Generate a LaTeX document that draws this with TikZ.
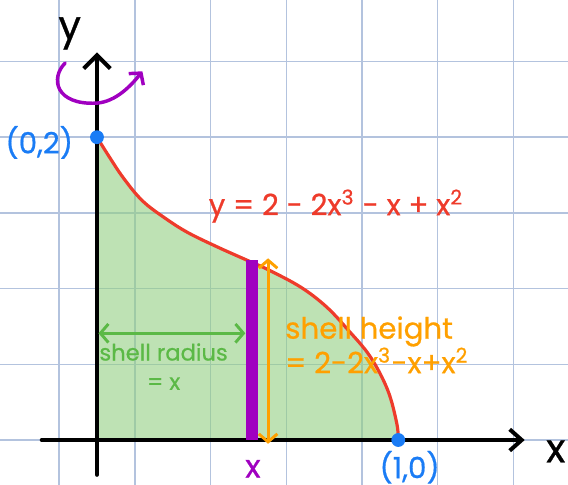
\documentclass[tikz,border=0pt]{standalone}
\usepackage{fontspec}
\setmainfont{Poppins}[UprightFeatures={FakeBold=0.7}]
\usetikzlibrary{arrows.meta, positioning, calc}
\definecolor{hgrid}{HTML}{B3C3DE}
\definecolor{hfill}{HTML}{93CF82}
\definecolor{hred}{HTML}{EE3B2B}
\definecolor{hblue}{HTML}{1A7CF5}
\definecolor{hpurple}{HTML}{A000C0}
\definecolor{horange}{HTML}{FFA000}
\definecolor{hgreen}{HTML}{5BB946}
\tikzset{
  gridline/.style={hgrid, line width=0.55pt},
  axisline/.style={line width=1.5pt, black, line cap=round},
  curveline/.style={hred, line width=1.2pt, line cap=round},
  shellfill/.style={fill=hfill, fill opacity=0.6},
  shellbar/.style={hpurple, line width=4.5pt},
  dimarr/.style={line width=1.1pt, {Straight Barb[length=3pt, width=7pt]}-{Straight Barb[length=3pt, width=7pt]}},
  dot/.style={circle, fill=hblue, minimum size=5.2pt, inner sep=0pt},
  lbl/.style={inner sep=0pt, font=\fontsize{11}{14}\selectfont},
}

\begin{document}
\begin{tikzpicture}[x=1cm, y=1cm,
    axlbl/.style={inner sep=0pt, font=\fontsize{15}{18}\selectfont}]
  \useasboundingbox (-1.281,-0.594) rectangle (6.222,5.812);
  % grid paper
  \foreach \gx in {-0.5,0.5,...,5.5}
    \draw[gridline] (\gx,-0.7) -- (\gx,5.9);
  \foreach \gy in {0,...,5}
    \draw[gridline] (-1.4,\gy) -- (6.3,\gy);
  % region under the curve
  \fill[shellfill] (0,0) -- plot[smooth, tension=0.6] coordinates {(0,4) (0.15,3.76) (0.35,3.46) (0.6,3.16) (0.9,2.93) (1.20,2.74) (1.59,2.55) (1.97,2.38) (2.26,2.25) (2.69,2.02) (3.03,1.76) (3.32,1.45) (3.61,1.10) (3.84,0.66) (3.96,0.22) (3.98,0)} -- cycle;
  \draw[curveline] plot[smooth, tension=0.6] coordinates {(0,4) (0.15,3.76) (0.35,3.46) (0.6,3.16) (0.9,2.93) (1.20,2.74) (1.59,2.55) (1.97,2.38) (2.26,2.25) (2.69,2.02) (3.03,1.76) (3.32,1.45) (3.61,1.10) (3.84,0.66) (3.96,0.22) (3.98,0)};
  % axes
  \coordinate (xS) at (-0.73,0);
  \coordinate (xE) at (5.65,0);
  \coordinate (yS) at (0,-0.46);
  \coordinate (yE) at (0,5.12);
  \draw[axisline, -{Straight Barb[length=4.5pt, width=8pt]}] (xS) -- (xE);
  \draw[axisline, -{Straight Barb[length=5pt, width=10pt]}] (yS) -- (yE);
  \node[axlbl] (ylab) at (-0.36,5.37) {y};
  \node[axlbl] (xlab) at (6.06,-0.15) {x};
  % rotation about the y-axis
  \coordinate (rotS) at (-0.42,4.98);
  \coordinate (rotB) at (0,4.45);
  \coordinate (rotE) at (0.60,4.87);
  \draw[hpurple, line width=1.3pt, line cap=round, -{Straight Barb[length=3pt, width=7pt]}]
    (rotS) .. controls (-0.62,4.78) and (-0.55,4.42) .. (rotB)
    .. controls (0.25,4.47) and (0.45,4.68) .. (rotE);
  % the shell
  \coordinate (barB) at (2.05,0);
  \coordinate (barT) at (2.05,2.38);
  \draw[shellbar] (barB) -- (barT);
  \node[lbl, text=hpurple, font=\fontsize{12}{14}\selectfont] (barlab) at (2.06,-0.38) {x};
  % shell height
  \coordinate (hT) at (2.26,2.40);
  \coordinate (hB) at (2.26,-0.05);
  \draw[dimarr, horange] (hT) -- (hB);
  \node[lbl, text=horange, anchor=north west, align=left] (hlab) at (2.48,1.64)
    {shell height\\[-1pt]= 2-2x\textsuperscript{3}-x+x\textsuperscript{2}};
  % shell radius
  \coordinate (rL) at (0.02,1.41);
  \coordinate (rR) at (1.96,1.41);
  \draw[dimarr, hgreen] (rL) -- (rR);
  \node[lbl, text=hgreen, font=\fontsize{8.5}{11}\selectfont, align=center] (rlab) at (0.88,0.97)
    {shell radius\\= x};
  % end points
  \node[dot] (p02) at (0,4) {};
  \node[dot] (p10) at (3.98,0) {};
  \node[lbl, text=hblue, left=6pt of p02, yshift=-2pt] (p02lab) {(0,2)};
  \node[lbl, text=hblue] (p10lab) at (4.13,-0.36) {(1,0)};
  % curve label
  \node[lbl, text=hred, anchor=base west] (eqn) at (1.47,2.97)
    {y = 2 - 2x\textsuperscript{3} - x + x\textsuperscript{2}};
\end{tikzpicture}
\end{document}
